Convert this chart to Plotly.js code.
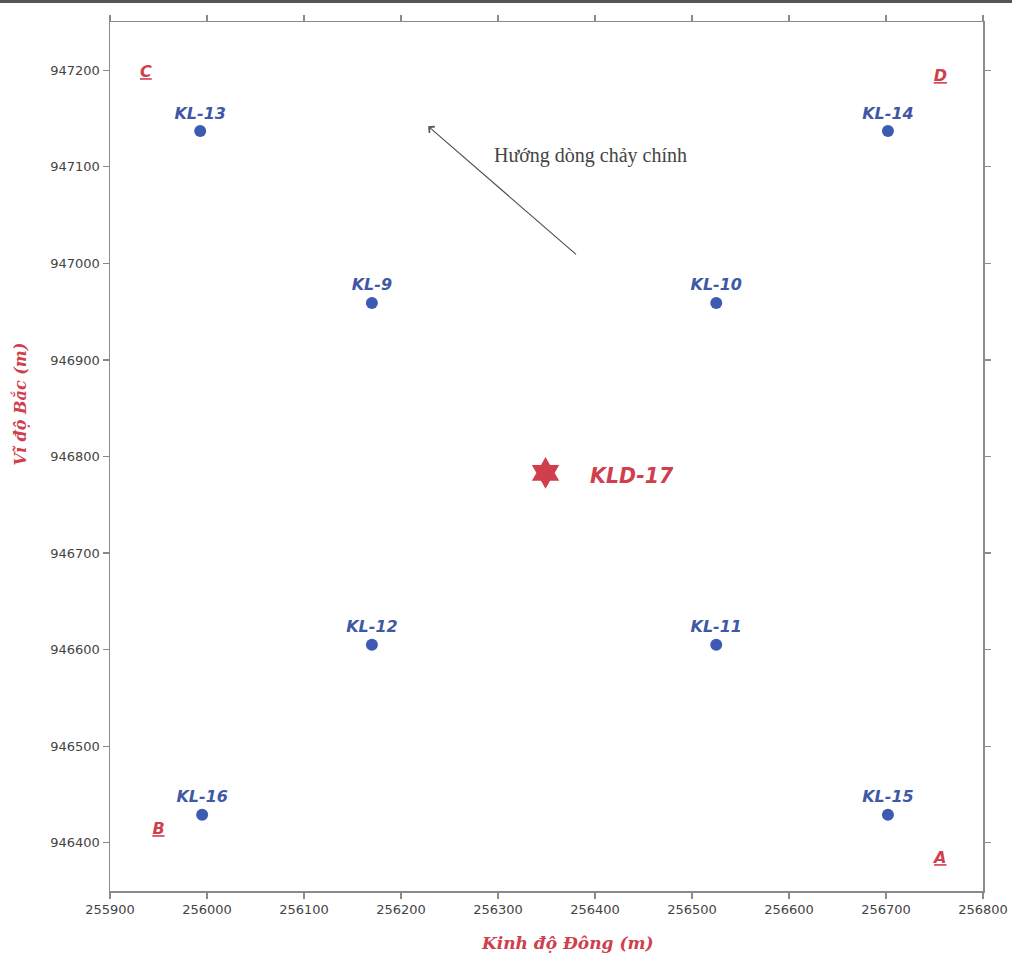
<!DOCTYPE html>
<html>
<head>
<meta charset="utf-8">
<script src="https://cdn.plot.ly/plotly-3.0.1.min.js"></script>
<style>html,body{margin:0;padding:0;background:#fff;}#chart{width:1012px;height:955px;}</style>
</head>
<body>
<div id="chart"></div>
<script>
// Monitoring wells
const wellNames = ['KL-13','KL-14','KL-9','KL-10','KL-12','KL-11','KL-16','KL-15'];
const wellX = [255993, 256702, 256170, 256525, 256170, 256525, 255995, 256702];
const wellY = [947137, 947137, 946959, 946959, 946605, 946605, 946429, 946429];

// Central source well
const srcName = ['KLD-17'];
const srcX = [256349];
const srcY = [946783];

// Corner points of the area
const cornerNames = ['C','D','B','A'];
const cornerX = [255937, 256756, 255950, 256756];
const cornerY = [947197, 947193, 946413, 946383];

// Flow direction arrow (head, tail) and its label
const flowHead = {x: 256228, y: 947142};
const flowTail = {x: 256382, y: 947008};
const flowLabel = {text: 'Hướng dòng chảy chính', x: 256395, y: 947112};

const xTicks = [255900,256000,256100,256200,256300,256400,256500,256600,256700,256800];
const yTicks = [946400,946500,946600,946700,946800,946900,947000,947100,947200];

const blue = '#3d5bb3';
const blueText = '#3f58a6';
const red = '#cf3f4e';
const sansFont = 'DejaVu Sans, Verdana, sans-serif';
const serifFont = 'DejaVu Serif, Liberation Serif, serif';

const traces = [
  {
    type: 'scatter', mode: 'markers+text',
    x: wellX, y: wellY, text: wellNames,
    textposition: 'top center',
    marker: {color: blue, size: 12},
    textfont: {family: sansFont, size: 16, color: blueText, weight: 'bold', style: 'italic'},
    hoverinfo: 'skip', cliponaxis: false
  },
  {
    type: 'scatter', mode: 'markers',
    x: srcX, y: srcY,
    marker: {color: red, size: 24, symbol: 'hexagram', line: {width: 0}},
    hoverinfo: 'skip'
  },
  {
    type: 'scatter', mode: 'text',
    x: cornerX, y: cornerY,
    text: cornerNames.map(s => '<u>' + s + '</u>'),
    textposition: 'middle center',
    textfont: {family: sansFont, size: 16, color: red, weight: 'bold', style: 'italic'},
    hoverinfo: 'skip'
  }
];

const axisCommon = {
  showgrid: false, zeroline: false,
  showline: true, linecolor: '#8a8a8a', linewidth: 1.5,
  mirror: 'ticks', ticks: 'outside', ticklen: 6, tickcolor: '#8a8a8a', tickwidth: 1.2,
  tickfont: {family: sansFont, size: 13, color: '#444'},
  tickmode: 'array'
};

const layout = {
  width: 1012, height: 955,
  margin: {l: 110, r: 29, t: 22, b: 64},
  paper_bgcolor: '#fff', plot_bgcolor: '#fff',
  showlegend: false,
  xaxis: Object.assign({}, axisCommon, {
    range: [255900, 256800], tickvals: xTicks, ticktext: xTicks.map(String)
  }),
  yaxis: Object.assign({}, axisCommon, {
    range: [946350, 947250], tickvals: yTicks, ticktext: yTicks.map(String)
  }),
  annotations: [
    {
      x: srcX[0], y: srcY[0], xref: 'x', yref: 'y',
      text: srcName[0], showarrow: false, xanchor: 'left', xshift: 42, yshift: -3,
      font: {family: sansFont, size: 20.5, color: red, weight: 'bold', style: 'italic'}
    },
    {
      x: flowHead.x, y: flowHead.y, ax: flowTail.x, ay: flowTail.y,
      xref: 'x', yref: 'y', axref: 'x', ayref: 'y',
      text: '', showarrow: true, arrowhead: 4, arrowsize: 1.3, arrowwidth: 1.2, arrowcolor: '#555'
    },
    {
      x: flowLabel.x, y: flowLabel.y, xref: 'x', yref: 'y',
      text: flowLabel.text, showarrow: false,
      font: {family: 'Liberation Serif, Times New Roman, serif', size: 20, color: '#444'}
    },
    {
      x: 0.524, y: -0.06, xref: 'paper', yref: 'paper',
      text: '<b><i>Kinh độ Đông (m)</i></b>', showarrow: false, yanchor: 'middle',
      font: {family: serifFont, size: 17, color: red}
    },
    {
      x: -0.103, y: 0.56, xref: 'paper', yref: 'paper',
      text: '<b><i>Vĩ độ Bắc (m)</i></b>', showarrow: false, textangle: -90,
      xanchor: 'center', yanchor: 'middle',
      font: {family: serifFont, size: 16, color: red}
    }
  ],
  shapes: [
    {type: 'rect', xref: 'paper', yref: 'paper', x0: -0.2, x1: 1.1, y0: 1.0219, y1: 1.0253,
     fillcolor: '#555', line: {width: 0}, layer: 'above'}
  ]
};

Plotly.newPlot('chart', traces, layout, {displayModeBar: false, staticPlot: true});
</script>
</body>
</html>
